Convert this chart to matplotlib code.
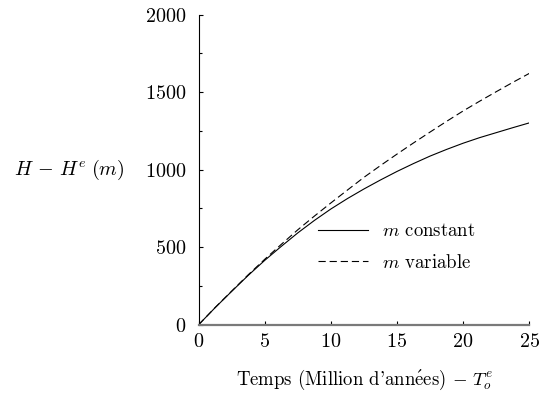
import numpy as np
import matplotlib
matplotlib.use('Agg')
import matplotlib.pyplot as plt

# Donnees
temps = [0, 1.25, 2.5, 3.75, 5, 6.25, 7.5, 8.75, 10, 11.25, 12.5, 13.75, 15,
         16.25, 17.5, 18.75, 20, 21.25, 22.5, 23.75, 25]
h_constant = [0, 110, 215, 318, 415, 505, 592, 672, 746, 813, 875, 933, 988,
              1039, 1087, 1130, 1170, 1206, 1238, 1270, 1301]
h_variable = [0, 111, 217, 322, 422, 518, 612, 700, 785, 868, 950, 1026, 1100,
              1172, 1242, 1311, 1378, 1441, 1502, 1562, 1620]
labels = [r'$m$ constant', r'$m$ variable']

plt.rcParams['font.family'] = 'serif'
plt.rcParams['font.serif'] = ['cmr10']
plt.rcParams['mathtext.fontset'] = 'cm'
plt.rcParams['axes.formatter.use_mathtext'] = True
plt.rcParams['axes.unicode_minus'] = False

fig = plt.figure(figsize=(5.4, 3.93), dpi=100)
ax = fig.add_axes([0.368, 0.174, 0.612, 0.789])

ax.plot(temps, h_constant, color='black', lw=0.8, label=labels[0])
ax.plot(temps, h_variable, color='black', lw=0.8, linestyle=(0, (6.5, 3.5)), label=labels[1])

ax.set_xlim(0, 25)
ax.set_ylim(0, 2000)
ax.set_xticks([0, 5, 10, 15, 20, 25])
ax.set_yticks([0, 500, 1000, 1500, 2000])
ax.set_yticks(np.arange(250, 2000, 500), minor=True)

ax.spines['top'].set_visible(False)
ax.spines['right'].set_visible(False)
ax.spines['left'].set_linewidth(0.8)
ax.spines['bottom'].set_linewidth(1.6)
ax.spines['bottom'].set_color('#7a7a7a')

ax.tick_params(axis='both', which='major', direction='in', length=3, width=0.8, labelsize=14.5)
ax.tick_params(axis='x', pad=6)
ax.tick_params(axis='y', pad=9)
ax.tick_params(axis='y', which='minor', direction='in', length=2, width=0.8)

leg = ax.legend(loc='center left', bbox_to_anchor=(0.36, 0.25), frameon=False,
                fontsize=13.5, handlelength=2.7, handletextpad=0.75,
                labelspacing=0.7, borderpad=0, borderaxespad=0)

fig.text(364/540, 1-380/393, "Temps (Million d'ann$\\mathrm{\\acute{e}}$es) $-\\ T_o^e$",
         ha='center', va='center', fontsize=13.5)
fig.text(69/540, 1-170/393, r'$H\,-\,H^e\;(m)$', ha='center', va='center', fontsize=14.5)

fig.savefig('out.png', dpi=100)
